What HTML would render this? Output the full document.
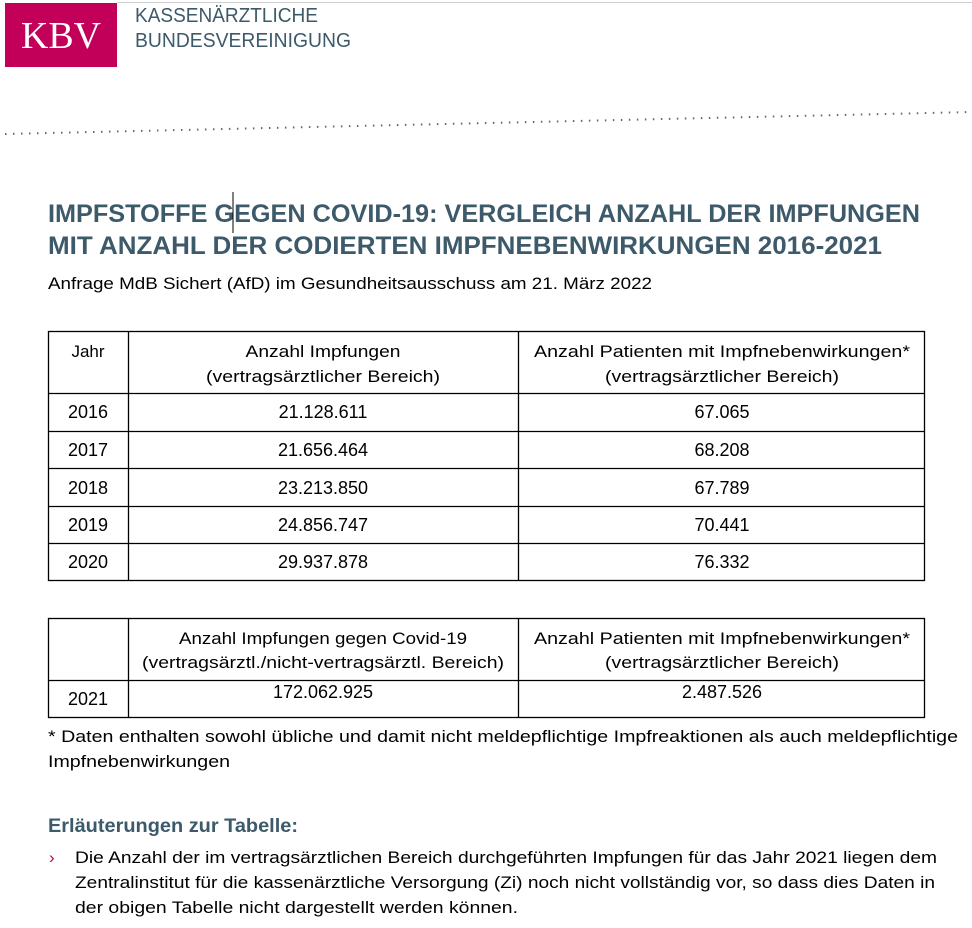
<!DOCTYPE html>
<html><head><meta charset="utf-8"><style>
html,body{margin:0;padding:0;background:#fff;width:972px;height:928px;overflow:hidden}
svg{display:block}
text{font-family:"Liberation Sans",sans-serif}
</style></head><body>
<svg width="972" height="928" viewBox="0 0 972 928" xmlns="http://www.w3.org/2000/svg">
<line x1="117" y1="2.5" x2="972" y2="2.5" stroke="#d0d0d0" stroke-width="1"/>
<rect x="5" y="3" width="112" height="64" fill="#c2005a"/>
<text x="61" y="48" text-anchor="middle" style="font-family:'Liberation Serif',serif" font-size="38" fill="#fff" textLength="80" lengthAdjust="spacingAndGlyphs">KBV</text>
<g fill="#3d5a6b" font-size="20">
<text x="135" y="22" textLength="183" lengthAdjust="spacingAndGlyphs">KASSENÄRZTLICHE</text>
<text x="135" y="47" textLength="216" lengthAdjust="spacingAndGlyphs">BUNDESVEREINIGUNG</text>
</g>
<line x1="5" y1="134" x2="972" y2="112" stroke="#5a6a78" stroke-width="2" stroke-dasharray="1.5 6.5"/>
<g fill="#3d5a6b" font-weight="bold" font-size="25">
<text x="48" y="222" textLength="872" lengthAdjust="spacingAndGlyphs">IMPFSTOFFE GEGEN COVID-19: VERGLEICH ANZAHL DER IMPFUNGEN</text>
<text x="48" y="254" textLength="834" lengthAdjust="spacingAndGlyphs">MIT ANZAHL DER CODIERTEN IMPFNEBENWIRKUNGEN 2016-2021</text>
</g>
<line x1="233" y1="192" x2="233" y2="233" stroke="#000" stroke-width="1"/>
<g fill="#000" font-size="17">
<text x="48" y="289" textLength="604" lengthAdjust="spacingAndGlyphs">Anfrage MdB Sichert (AfD) im Gesundheitsausschuss am 21. März 2022</text>
</g>
<g stroke="#000" stroke-width="1.3" fill="none">
<rect x="48.5" y="331.5" width="876" height="249"/>
<line x1="128.5" y1="331" x2="128.5" y2="581"/>
<line x1="518.5" y1="331" x2="518.5" y2="581"/>
<line x1="48" y1="393.5" x2="925" y2="393.5"/>
<line x1="48" y1="431.5" x2="925" y2="431.5"/>
<line x1="48" y1="468.5" x2="925" y2="468.5"/>
<line x1="48" y1="506.5" x2="925" y2="506.5"/>
<line x1="48" y1="543.5" x2="925" y2="543.5"/>
<rect x="48.5" y="618.5" width="876" height="99"/>
<line x1="128.5" y1="618" x2="128.5" y2="718"/>
<line x1="518.5" y1="618" x2="518.5" y2="718"/>
<line x1="48" y1="680.5" x2="925" y2="680.5"/>
</g>
<g fill="#000" font-size="17" text-anchor="middle">
<text x="88" y="357">Jahr</text>
<text x="323" y="357" textLength="155" lengthAdjust="spacingAndGlyphs">Anzahl Impfungen</text>
<text x="323" y="382" textLength="234" lengthAdjust="spacingAndGlyphs">(vertragsärztlicher Bereich)</text>
<text x="722" y="357" textLength="376" lengthAdjust="spacingAndGlyphs">Anzahl Patienten mit Impfnebenwirkungen*</text>
<text x="722" y="382" textLength="234" lengthAdjust="spacingAndGlyphs">(vertragsärztlicher Bereich)</text>
</g>
<g fill="#000" font-size="18" text-anchor="middle">
<text x="88" y="418">2016</text><text x="323" y="418">21.128.611</text><text x="722" y="418">67.065</text>
<text x="88" y="456">2017</text><text x="323" y="456">21.656.464</text><text x="722" y="456">68.208</text>
<text x="88" y="494">2018</text><text x="323" y="494">23.213.850</text><text x="722" y="494">67.789</text>
<text x="88" y="531">2019</text><text x="323" y="531">24.856.747</text><text x="722" y="531">70.441</text>
<text x="88" y="568">2020</text><text x="323" y="568">29.937.878</text><text x="722" y="568">76.332</text>
<text x="88" y="705">2021</text><text x="323" y="698">172.062.925</text><text x="722" y="698">2.487.526</text>
</g>
<g fill="#000" font-size="17" text-anchor="middle">
<text x="323" y="644" textLength="288" lengthAdjust="spacingAndGlyphs">Anzahl Impfungen gegen Covid-19</text>
<text x="323" y="668" textLength="362" lengthAdjust="spacingAndGlyphs">(vertragsärztl./nicht-vertragsärztl. Bereich)</text>
<text x="722" y="644" textLength="376" lengthAdjust="spacingAndGlyphs">Anzahl Patienten mit Impfnebenwirkungen*</text>
<text x="722" y="668" textLength="234" lengthAdjust="spacingAndGlyphs">(vertragsärztlicher Bereich)</text>
</g>
<g fill="#000" font-size="17">
<text x="48" y="742" textLength="910" lengthAdjust="spacingAndGlyphs">* Daten enthalten sowohl übliche und damit nicht meldepflichtige Impfreaktionen als auch meldepflichtige</text>
<text x="48" y="767" textLength="182" lengthAdjust="spacingAndGlyphs">Impfnebenwirkungen</text>
</g>
<text x="48" y="832" fill="#3d5a6b" font-weight="bold" font-size="19" textLength="250" lengthAdjust="spacingAndGlyphs">Erläuterungen zur Tabelle:</text>
<text x="49" y="863" fill="#c2005a" font-size="17">›</text>
<g fill="#000" font-size="17">
<text x="75" y="863" textLength="862" lengthAdjust="spacingAndGlyphs">Die Anzahl der im vertragsärztlichen Bereich durchgeführten Impfungen für das Jahr 2021 liegen dem</text>
<text x="75" y="888" textLength="860" lengthAdjust="spacingAndGlyphs">Zentralinstitut für die kassenärztliche Versorgung (Zi) noch nicht vollständig vor, so dass dies Daten in</text>
<text x="75" y="913" textLength="443" lengthAdjust="spacingAndGlyphs">der obigen Tabelle nicht dargestellt werden können.</text>
</g>
</svg>
</body></html>
